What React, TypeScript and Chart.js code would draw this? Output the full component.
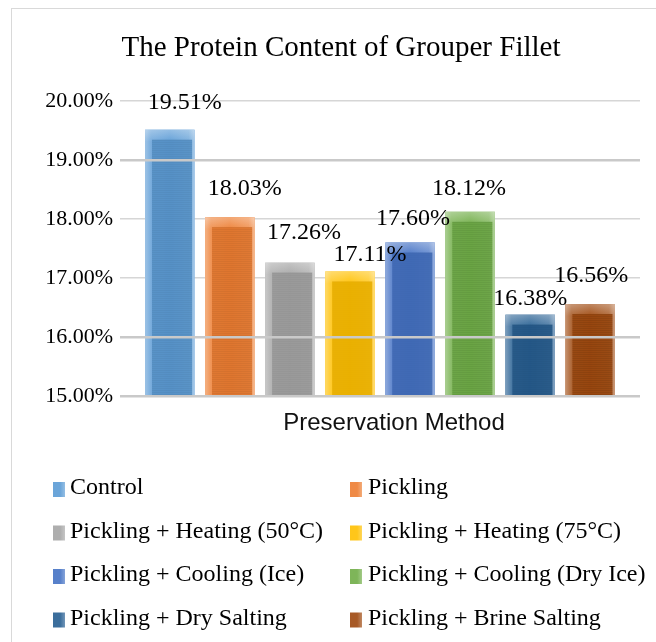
import React, { useEffect, useRef } from 'react';
import { Chart, registerables } from 'chart.js';

Chart.register(...registerables);

// ---- data ----
const categories = ['Preservation Method'];
const seriesNames = [
  'Control',
  'Pickling',
  'Pickling + Heating (50°C)',
  'Pickling + Heating (75°C)',
  'Pickling + Cooling (Ice)',
  'Pickling + Cooling (Dry Ice)',
  'Pickling + Dry Salting',
  'Pickling + Brine Salting',
];
const seriesValues = [19.51, 18.03, 17.26, 17.11, 17.6, 18.12, 16.38, 16.56];
const yTickValues = [15, 16, 17, 18, 19, 20];
const gridOnTopValues = [19, 16, 15];

// ---- styles ----
const seriesColors = ['#5B9BD5', '#ED7D31', '#A5A5A5', '#FFC000', '#4472C4', '#70AD47', '#255E91', '#9E480E'];
// label nudges (px) relative to the top-centre of each bar
const labelNudges = [[15, -27], [15, -28], [14, -30], [20, -17], [3, -24], [-1, -23], [0, -16], [1, -28]];

const SERIF = '"Liberation Serif", "Times New Roman", serif';
const SANS = '"Liberation Sans", Arial, sans-serif';

function hexToRgb(h: string) {
  const n = parseInt(h.slice(1), 16);
  return [(n >> 16) & 255, (n >> 8) & 255, n & 255];
}
function mix(h: string, t: string, a: number, alpha = 1) {
  const c = hexToRgb(h);
  const d = hexToRgb(t);
  const r = c.map((v, i) => Math.round(v + (d[i] - v) * a));
  return `rgba(${r[0]},${r[1]},${r[2]},${alpha})`;
}

const barPainter = {
  id: 'barPainter',
  afterDatasetsDraw(chart: any) {
    const ctx = chart.ctx as CanvasRenderingContext2D;
    const area = chart.chartArea;
    ctx.save();
    ctx.beginPath();
    ctx.rect(area.left, area.top, area.right - area.left, area.bottom - area.top);
    ctx.clip();
    chart.data.datasets.forEach((_ds: any, i: number) => {
      const meta = chart.getDatasetMeta(i);
      meta.data.forEach((el: any) => {
        const { x, y, base, width } = el.getProps(['x', 'y', 'base', 'width'], true);
        const c = seriesColors[i];
        const left = x - width / 2;
        const right = x + width / 2;
        const top = Math.min(y, base);
        const bottom = Math.min(Math.max(y, base), area.bottom);
        const g = ctx.createLinearGradient(left, 0, right, 0);
        g.addColorStop(0, mix(c, '#ffffff', 0.4));
        g.addColorStop(0.12, mix(c, '#ffffff', 0.18));
        g.addColorStop(0.5, mix(c, '#ffffff', 0.06));
        g.addColorStop(0.88, mix(c, '#ffffff', 0.2));
        g.addColorStop(1, mix(c, '#ffffff', 0.45));
        ctx.fillStyle = g;
        ctx.fillRect(left, top, width, bottom - top);
        const tg = ctx.createLinearGradient(0, top, 0, top + 12);
        tg.addColorStop(0, 'rgba(255,255,255,0.3)');
        tg.addColorStop(1, 'rgba(255,255,255,0)');
        ctx.fillStyle = tg;
        ctx.fillRect(left, top, width, Math.min(12, bottom - top));
        const il = left + width * 0.14;
        const ir = right - width * 0.05;
        const it = top + 10;
        if (it < bottom) {
          ctx.fillStyle = mix(c, '#000000', 0.06, 0.85);
          ctx.fillRect(il, it, ir - il, bottom - it);
          ctx.fillStyle = 'rgba(0,0,0,0.07)';
          for (let yy = it; yy < bottom; yy += 2) ctx.fillRect(il, yy, ir - il, 1);
        }
      });
    });
    ctx.restore();
  },
};

const overlayPainter = {
  id: 'overlayPainter',
  afterDraw(chart: any) {
    const ctx = chart.ctx as CanvasRenderingContext2D;
    ctx.save();
    // value labels
    ctx.font = `24px ${SERIF}`;
    ctx.fillStyle = '#000';
    ctx.textAlign = 'center';
    ctx.textBaseline = 'middle';
    chart.data.datasets.forEach((ds: any, i: number) => {
      const meta = chart.getDatasetMeta(i);
      meta.data.forEach((el: any, j: number) => {
        const v = ds.data[j];
        const [dx, dy] = labelNudges[i];
        ctx.fillText(`${v.toFixed(2)}%`, el.x + dx, el.y + dy);
      });
    });
    // legend (two columns)
    const boxX = [53, 350];
    const textX = [70, 368];
    const rowY0 = 488;
    const rowGap = 43.5;
    ctx.textAlign = 'left';
    ctx.font = `24px ${SERIF}`;
    chart.data.datasets.forEach((ds: any, i: number) => {
      const col = i % 2;
      const row = Math.floor(i / 2);
      const cy = rowY0 + row * rowGap;
      const c = seriesColors[i];
      const g = ctx.createLinearGradient(boxX[col], 0, boxX[col] + 12, 0);
      g.addColorStop(0, mix(c, '#ffffff', 0.1));
      g.addColorStop(0.6, mix(c, '#ffffff', 0.1));
      g.addColorStop(1, mix(c, '#ffffff', 0.35));
      ctx.fillStyle = g;
      ctx.fillRect(boxX[col], cy - 6, 12, 15);
      ctx.fillStyle = '#000';
      ctx.fillText(ds.label, textX[col], cy);
    });
    ctx.restore();
  },
};

export default function App() {
  const ref = useRef<HTMLCanvasElement | null>(null);
  useEffect(() => {
    if (!ref.current) return;
    const setTicks = (s: any) => {
      s.ticks = yTickValues.map((v) => ({ value: v }));
    };
    const chart = new Chart(ref.current, {
      type: 'bar',
      data: {
        labels: categories,
        datasets: seriesNames.map((name, i) => ({
          label: name,
          data: [seriesValues[i]],
          backgroundColor: seriesColors[i],
          borderWidth: 0,
          categoryPercentage: 0.924,
          barPercentage: 0.824,
        })),
      },
      options: {
        animation: false,
        responsive: true,
        maintainAspectRatio: false,
        layout: { padding: { left: 42, right: 16, top: 0, bottom: 191 } },
        plugins: {
          legend: { display: false },
          tooltip: { enabled: false },
          title: {
            display: true,
            text: 'The Protein Content of Grouper Fillet',
            color: '#000',
            font: { family: SERIF, size: 29, weight: 'normal' },
            padding: { top: 31, bottom: 35 },
          },
        },
        scales: {
          x: {
            grid: { display: false, drawTicks: false },
            border: { display: false },
            ticks: {
              color: '#111',
              font: { family: SANS, size: 24 },
              padding: 13,
              labelOffset: 14,
            },
          },
          y: {
            position: 'left',
            min: 15,
            max: 20,
            afterBuildTicks: setTicks,
            afterFit: (s: any) => {
              s.width = 78;
            },
            border: { display: false },
            grid: {
              drawTicks: false,
              lineWidth: 1.5,
              color: (c: any) => (gridOnTopValues.includes(c.tick?.value) ? 'rgba(0,0,0,0)' : '#d6d6d6'),
            },
            ticks: {
              padding: 7,
              color: '#000',
              font: { family: SERIF, size: 22 },
              callback: (v: any) => `${Number(v).toFixed(2)}%`,
            },
          },
          y2: {
            position: 'left',
            min: 15,
            max: 20,
            afterBuildTicks: setTicks,
            afterFit: (s: any) => {
              s.width = 0;
            },
            border: { display: false },
            grid: {
              z: 1,
              drawTicks: false,
              lineWidth: 2.5,
              color: (c: any) => (gridOnTopValues.includes(c.tick?.value) ? '#c9c9c9' : 'rgba(0,0,0,0)'),
            },
            ticks: { display: false },
          },
        },
      } as any,
      plugins: [barPainter, overlayPainter],
    });
    return () => chart.destroy();
  }, []);

  return (
    <div style={{ position: 'absolute', left: 0, top: 0, width: 656, height: 642, background: '#fff' }}>
      <div
        style={{
          position: 'absolute',
          left: 11,
          top: 8,
          width: 645,
          height: 634,
          borderTop: '1px solid #d9d9d9',
          borderLeft: '1px solid #d9d9d9',
          boxSizing: 'border-box',
        }}
      />
      <div style={{ position: 'absolute', left: 0, top: 0, width: 656, height: 642 }}>
        <canvas ref={ref} />
      </div>
    </div>
  );
}
